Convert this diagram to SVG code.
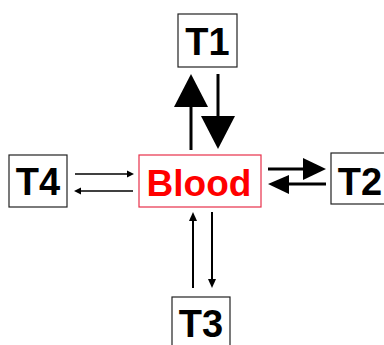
<svg xmlns="http://www.w3.org/2000/svg" width="384" height="345" viewBox="0 0 384 345">
<style>
.box{fill:#fff;stroke:#222;stroke-width:1.2}
.blood{fill:#fff;stroke:#e8304a;stroke-width:1.2}
.lbl{font-family:"Liberation Sans",Arial,sans-serif;font-weight:bold;font-size:38px;fill:#000;text-anchor:middle}
.bl{font-family:"Liberation Sans",Arial,sans-serif;font-weight:bold;font-size:37px;fill:#f00;text-anchor:middle}
.a{stroke:#000;fill:none}
.h{fill:#000;stroke:none}
</style>
<rect width="384" height="345" fill="#fff"/>
<g id="connectors">
<line class="a" x1="191" y1="150" x2="191" y2="104" stroke-width="3"/>
<polygon class="h" points="191,74 174,107 208,107"/>
<line class="a" x1="218" y1="74" x2="218" y2="119" stroke-width="3"/>
<polygon class="h" points="218,149 201,116 235,116"/>
<line class="a" x1="268" y1="169" x2="306" y2="169" stroke-width="3"/>
<polygon class="h" points="326,169 303,158 303,180"/>
<line class="a" x1="326" y1="184" x2="286" y2="184" stroke-width="3"/>
<polygon class="h" points="268,184 289,175 289,194"/>
<line class="a" x1="193" y1="288" x2="193" y2="219" stroke-width="2"/>
<polygon class="h" points="193,212 189,221 197,221"/>
<line class="a" x1="212" y1="212" x2="212" y2="281" stroke-width="2"/>
<polygon class="h" points="212,288 208,279 216,279"/>
<line class="a" x1="75" y1="174" x2="128" y2="174" stroke-width="1.3"/>
<polygon class="h" points="134,174 127,170.5 127,177.5"/>
<line class="a" x1="133" y1="191" x2="80" y2="191" stroke-width="1.3"/>
<polygon class="h" points="74,191 81,187.5 81,194.5"/>
</g>
<g id="blood">
<rect class="blood" x="139" y="155" width="122" height="52"/>
<text class="bl" x="199" y="196">Blood</text>
</g>
<g id="t1">
<rect class="box" x="178" y="14" width="59" height="53"/>
<text class="lbl" x="207.5" y="55">T1</text>
</g>
<g id="t2">
<rect class="box" x="331" y="153" width="60" height="51"/>
<text class="lbl" x="360" y="195">T2</text>
</g>
<g id="t3">
<rect class="box" x="172" y="297" width="58" height="60"/>
<text class="lbl" x="201" y="337">T3</text>
</g>
<g id="t4">
<rect class="box" x="9" y="155" width="58" height="52"/>
<text class="lbl" x="38" y="195">T4</text>
</g>
</svg>
